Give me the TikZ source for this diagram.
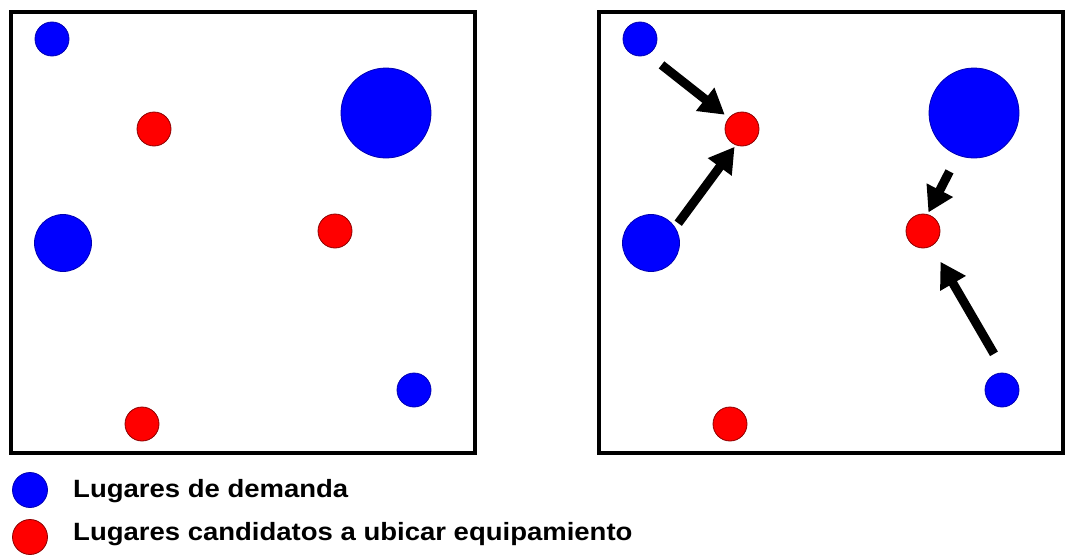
\documentclass[tikz,border=0pt]{standalone}
\usepackage{fontspec}
\setmainfont{Liberation Sans}
\newfontfamily\leyfont[FakeStretch=1.1]{Liberation Sans}
\usetikzlibrary{arrows.meta}
\begin{document}
\begin{tikzpicture}[
			x=1pt, y=-1pt,
			demanda/.style={circle, fill=blue, draw=blue!70!black,
				inner sep=0pt, line width=0.8pt},
			candidato/.style={circle, fill=red, draw=red!55!black,
				inner sep=0pt, minimum size=34pt, line width=0.8pt},
			marco/.style={line width=4pt, black},
			flecha/.style={-{Triangle[length=25pt, width=28pt]},
				line width=9pt, black},
			leyenda/.style={anchor=base west, inner sep=0pt,
				font=\leyfont\fontsize{25}{30}\selectfont\bfseries}]
			\useasboundingbox (0,0) rectangle (1065,554);
			\def\dx{588}
			
			%% dos paneles: mismos lugares, a la derecha con asignacion
			\foreach \s/\p in {0/a, \dx/b}{
				\begin{scope}[xshift=\s]
					\draw[marco] (11,12) rectangle (475,453);
					\node[demanda, minimum size=34pt] (\p d1) at (52,39) {};
					\node[demanda, minimum size=90pt] (\p d3) at (386,113) {};
					\node[demanda, minimum size=57pt] (\p d2) at (63,243) {};
					\node[demanda, minimum size=34pt] (\p d4) at (414,390) {};
					\node[candidato] (\p c1) at (154,129) {};
					\node[candidato] (\p c2) at (335,231) {};
					\node[candidato] (\p c3) at (142,424) {};
				\end{scope}
			}
			
			%% asignacion de la demanda al candidato mas cercano
			\draw[flecha, shorten <=17pt, shorten >=5pt] (bd1.-62) -- (bc1.140);
			\draw[flecha, shorten <=5pt, shorten >=2pt] (bd2.33) -- (bc1.-111);
			\draw[flecha, shorten <=18pt, shorten >=2pt] (bd3.-111) -- (bc2.75);
			\draw[flecha, shorten <=22pt, shorten >=18pt] (bd4.80) -- (bc2.-61);
			
			%% leyenda
			\node[demanda, minimum size=35pt] (leyD) at (30,490) {};
			\node[candidato, minimum size=35pt] (leyC) at (30,537) {};
			\node[leyenda] (txtD) at (73,497) {Lugares de demanda};
			\node[leyenda] (txtC) at (73,540) {Lugares candidatos a ubicar equipamiento};
		\end{tikzpicture}
\end{document}
